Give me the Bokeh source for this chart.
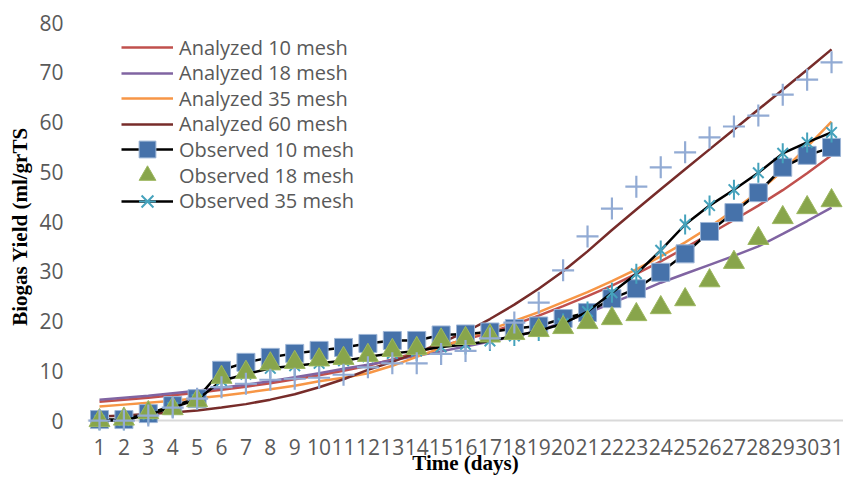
import math
from bokeh.plotting import figure
from bokeh.models import Legend, LegendItem, FixedTicker, Span, Range1d
from bokeh.embed import file_html
from bokeh.resources import INLINE

days = list(range(1, 32))
day_labels = [str(d) for d in days]
y_ticks = [0, 10, 20, 30, 40, 50, 60, 70, 80]

analyzed_10 = [3.8, 4.2, 4.6, 5.1, 5.6, 6.2, 6.8, 7.5, 8.3, 9.1, 10.0, 11.0, 12.3, 13.7, 15.0,
               16.3, 17.7, 19.3, 21.1, 23.0, 25.0, 27.1, 29.5, 32.0, 34.7, 37.5, 40.3, 43.2,
               46.3, 49.7, 53.3]
analyzed_18 = [4.2, 4.6, 5.0, 5.5, 6.0, 6.6, 7.2, 7.9, 8.7, 9.5, 10.4, 11.2, 12.1, 13.0, 13.9,
               14.9, 15.9, 16.9, 18.1, 19.7, 21.6, 23.6, 25.6, 27.7, 29.5, 31.3, 33.1, 35.0,
               37.5, 40.1, 42.8]
analyzed_35 = [2.8, 3.2, 3.6, 4.0, 4.5, 5.0, 5.6, 6.3, 7.0, 7.9, 8.6, 9.5, 11.0, 12.8, 14.6,
               16.6, 18.3, 20.0, 21.8, 23.8, 25.8, 28.0, 30.4, 33.0, 35.8, 38.9, 42.3, 46.0,
               50.2, 55.0, 60.1]
analyzed_60 = [0.8, 1.0, 1.3, 1.6, 2.0, 2.6, 3.3, 4.2, 5.3, 6.7, 8.3, 10.2, 11.8, 13.6, 15.6,
               17.8, 20.4, 23.3, 26.5, 30.0, 34.0, 38.3, 42.4, 46.5, 50.5, 54.5, 58.5, 62.5,
               66.5, 70.5, 74.6]
observed_10 = [0.2, 0.2, 1.4, 3.0, 4.4, 10.1, 11.7, 12.7, 13.5, 14.1, 14.7, 15.5, 16.1, 16.1,
               17.2, 17.4, 17.8, 18.5, 19.0, 20.5, 21.7, 24.5, 26.5, 29.8, 33.5, 38.0, 41.8,
               45.8, 50.9, 53.3, 54.9]
observed_18 = [0.0, 0.3, 1.6, 2.4, 4.0, 8.7, 9.7, 11.4, 11.7, 12.2, 12.5, 13.1, 14.1, 14.5,
               16.2, 16.5, 17.0, 17.5, 18.1, 18.7, 19.7, 20.5, 21.3, 22.7, 24.3, 28.1, 31.8,
               36.6, 40.8, 42.8, 44.2]
observed_35 = [0.0, 0.0, 1.2, 2.6, 4.2, 8.0, 9.3, 10.5, 11.0, 11.5, 12.0, 12.8, 13.5, 14.0,
               14.8, 15.3, 16.0, 17.0, 18.0, 19.5, 21.9, 25.7, 29.5, 34.2, 39.4, 43.2, 46.4,
               49.8, 53.7, 55.9, 57.9]
observed_60 = [0.0, 0.0, 1.0, 2.6, 4.4, 6.7, 7.4, 8.2, 8.4, 8.6, 9.2, 10.7, 11.5, 11.5, 13.4,
               14.0, 16.5, 19.7, 23.7, 30.2, 37.0, 42.6, 47.0, 50.9, 53.9, 56.9, 59.1, 61.3,
               65.5, 68.5, 72.0]

TICK_FONT = "Open Sans"
TITLE_FONT = "Liberation Serif"
GREY = "#595959"

p = figure(width=843, height=477, output_backend="svg", toolbar_location=None,
           x_range=Range1d(0.508, 31.49), y_range=Range1d(-2, 80),
           min_border_left=87, min_border_right=0, min_border_top=22, min_border_bottom=47)
p.outline_line_color = None
p.xgrid.grid_line_color = None
p.ygrid.grid_line_color = None
p.background_fill_color = "white"
p.border_fill_color = "white"

p.add_layout(Span(location=0, dimension="width", line_color="#D9D9D9", line_width=2,
                  level="underlay"))

# axes
p.xaxis.ticker = FixedTicker(ticks=days)
p.xaxis.major_label_overrides = {d: l for d, l in zip(days, day_labels)}
p.yaxis.ticker = FixedTicker(ticks=y_ticks)
for ax in (p.xaxis, p.yaxis):
    ax.axis_line_color = None
    ax.major_tick_line_color = None
    ax.minor_tick_line_color = None
    ax.major_tick_out = 0
    ax.major_tick_in = 0
    ax.major_label_text_font = TICK_FONT
    ax.major_label_text_font_size = "21px"
    ax.major_label_text_color = GREY
    ax.axis_label_text_font = TITLE_FONT
    ax.axis_label_text_font_style = "bold"
    ax.axis_label_text_font_size = "21px"
    ax.axis_label_text_color = "black"
p.xaxis.axis_label = "Time (days)"
p.yaxis.axis_label = "Biogas Yield (ml/grTS"
p.xaxis.major_label_standoff = 8
p.xaxis.axis_label_standoff = -7
p.yaxis.major_label_standoff = 24
p.yaxis.axis_label_standoff = 4

# analyzed lines
r_a10 = p.line(days, analyzed_10, line_color="#C0504D", line_width=2.5)
r_a18 = p.line(days, analyzed_18, line_color="#8064A2", line_width=2.5)
r_a35 = p.line(days, analyzed_35, line_color="#F79646", line_width=2.5)
r_a60 = p.line(days, analyzed_60, line_color="#772C2A", line_width=2.5)

# observed 10 mesh
r_o10l = p.line(days, observed_10, line_color="black", line_width=2.5)
r_o10m = p.scatter(days, observed_10, marker="square", size=18, fill_color="#4672AA",
                   line_color="#9DB5D6", line_width=1)

# observed 35 mesh
r_o35l = p.line(days, observed_35, line_color="black", line_width=2.5)
r_o35x = p.scatter(days, observed_35, marker="x", size=15, line_color="#45A2BC", line_width=2)
r_o35d = p.scatter(days, observed_35, marker="dash", size=20, angle=math.pi / 2,
                   line_color="#45A2BC", line_width=2)

# observed 18 mesh
r_o18 = p.scatter(days, observed_18, marker="triangle", size=21, fill_color="#88A54B",
                  line_color="#9DB860", line_width=1)

# observed 60 mesh (not in legend)
r_o60 = p.scatter(days, observed_60, marker="cross", size=22, line_color="#92ABD4",
                  line_width=2.2)

# legend rows (one small legend per row, positioned from the frame's bottom-left)
legend_entries = [
    ("Analyzed 10 mesh", [r_a10]),
    ("Analyzed 18 mesh", [r_a18]),
    ("Analyzed 35 mesh", [r_a35]),
    ("Analyzed 60 mesh", [r_a60]),
    ("Observed 10 mesh", [r_o10l, r_o10m]),
    ("Observed 18 mesh", [r_o18]),
    ("Observed 35 mesh", [r_o35l, r_o35x, r_o35d]),
]
ROW_H = 42
FIRST_ROW_FROM_TOP = 25.0   # px below frame top
PITCH = 25.6
FRAME_H = 477 - 22 - 47
for i, (label, rends) in enumerate(legend_entries):
    center_from_top = FIRST_ROW_FROM_TOP + i * PITCH
    ypos = FRAME_H - center_from_top - ROW_H / 2
    lg = Legend(items=[LegendItem(label=label, renderers=rends)], location=(34, ypos))
    lg.background_fill_alpha = 0
    lg.border_line_color = None
    lg.padding = 0
    lg.margin = 0
    lg.spacing = 0
    lg.label_height = ROW_H
    lg.glyph_height = ROW_H
    lg.glyph_width = 52
    lg.label_standoff = 6
    lg.label_text_font = TICK_FONT
    lg.label_text_font_size = "20px"
    lg.label_text_color = GREY
    p.add_layout(lg)

open("out.html", "w").write(file_html(p, INLINE))
